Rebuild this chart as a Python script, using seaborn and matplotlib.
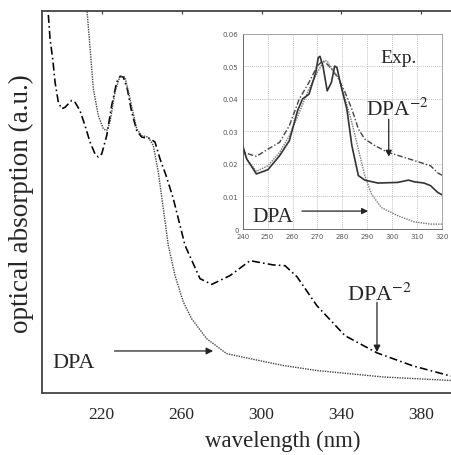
import numpy as np
import pandas as pd
import matplotlib
matplotlib.use('Agg')
import matplotlib.pyplot as plt
import seaborn as sns

# main panel: calculated spectra (wavelength in nm, absorption in a.u.)
dpa2_wl = [192.5, 193.25, 194.25, 195.6, 196.75, 198.4, 200.1, 201.75, 205.1, 206.75,
           209.25, 211.75, 214.25, 216.75, 218.4, 220.1, 222.6, 225.1, 227.6, 229.25,
           230.9, 232.9, 235.1, 237.6, 240.1, 244.25, 246.75, 249.25, 252.25, 255.9,
           261.75, 269.25, 275.1, 284.25, 294.25, 305.75, 311.75, 317.75, 327.75,
           341.75, 357.75, 375.75, 394.25, 410.0, 430.0]
dpa2_abs = [1.08, 1.0, 0.927, 0.874, 0.814, 0.761, 0.744, 0.748, 0.766, 0.761,
            0.739, 0.700, 0.657, 0.626, 0.618, 0.626, 0.674, 0.753, 0.814, 0.829,
            0.827, 0.796, 0.735, 0.687, 0.670, 0.666, 0.657, 0.613, 0.570, 0.509,
            0.387, 0.300, 0.285, 0.308, 0.347, 0.336, 0.334, 0.305, 0.229,
            0.151, 0.106, 0.072, 0.046, 0.036, 0.030]

dpa_wl = [212.2, 212.75, 213.9, 215.9, 218.4, 220.9, 222.6, 224.25, 226.75, 229.25,
          231.75, 234.25, 237.6, 240.1, 243.4, 245.9, 248.4, 250.9, 253.4, 256.75,
          260.9, 265.1, 272.6, 282.6, 294.25, 310.9, 327.6, 360.9, 394.25, 410.0, 430.0]
dpa_abs = [1.05, 1.0, 0.927, 0.796, 0.726, 0.692, 0.687, 0.709, 0.788, 0.829,
           0.827, 0.770, 0.692, 0.674, 0.670, 0.648, 0.578, 0.483, 0.387, 0.308,
           0.239, 0.195, 0.143, 0.104, 0.091, 0.073, 0.060, 0.043, 0.034, 0.031, 0.029]

# inset: experimental spectra
exp_dpa_wl = [240, 241.6, 245.5, 250.1, 254.8, 258.7, 262.7, 266.6, 269.9, 272.6,
              273.9, 275.8, 278.5, 281.1, 283.8, 286.4, 289.0, 291.7, 295.6, 302.2,
              308.8, 315.4, 320]
exp_dpa_abs = [0.0245, 0.0215, 0.0177, 0.0194, 0.0235, 0.0286, 0.0358, 0.0430, 0.0480, 0.0516,
               0.0516, 0.0490, 0.0465, 0.0400, 0.0327, 0.0245, 0.0164, 0.0107, 0.0066, 0.0041,
               0.0022, 0.0015, 0.0015]

exp_dpa2_wl = [240, 240.3, 245.5, 250.1, 254.8, 258.7, 262.7, 266.6, 269.9, 272.0,
               273.9, 275.8, 278.5, 281.1, 283.8, 286.4, 289.0, 293.0, 298.3, 304.8,
               311.4, 315.4, 318.3, 320]
exp_dpa2_abs = [0.0255, 0.0235, 0.0223, 0.0245, 0.0266, 0.0317, 0.0399, 0.0450, 0.0500, 0.0516,
                0.0506, 0.0490, 0.0460, 0.0419, 0.0368, 0.0307, 0.0276, 0.0256, 0.0235, 0.0220,
                0.0204, 0.0194, 0.0172, 0.0165]

exp_solid_wl = [240, 241.6, 245.5, 250.1, 254.8, 258.7, 262.0, 264.0, 266.6, 269.3,
                270.3, 271.0, 272.2, 273.9, 275.6, 276.9, 277.8, 279.1, 281.8, 283.8,
                286.4, 289.0, 294.3, 302.2, 306.5, 308.8, 312.8, 315.4, 318.3, 320]
exp_solid_abs = [0.0256, 0.0215, 0.0169, 0.0182, 0.0225, 0.0271, 0.0363, 0.0399, 0.0414, 0.0480,
                 0.0526, 0.0530, 0.0500, 0.0424, 0.0450, 0.0500, 0.0496, 0.0450, 0.0368, 0.0256,
                 0.0164, 0.0150, 0.0141, 0.0143, 0.0150, 0.0145, 0.0141, 0.0133, 0.0112, 0.0105]

main_ticks = [220, 260, 300, 340, 380]
inset_xticks = [240, 250, 260, 270, 280, 290, 300, 310, 320]
inset_yticks = [0, 0.01, 0.02, 0.03, 0.04, 0.05, 0.06]
inset_yticklabels = ['0', '0.01', '0.02', '0.03', '0.04', '0.05', '0.06']

sns.set_style('white')
plt.rcParams['font.family'] = ['Liberation Serif', 'DejaVu Serif']
plt.rcParams['mathtext.fontset'] = 'stix'

fig = plt.figure(figsize=(4.52, 4.56), dpi=100)
# main axes runs past the right edge of the picture (cropped like the original)
ax = fig.add_axes([0.093, 0.135, 1.064, 0.839])

sns.lineplot(x=dpa2_wl, y=dpa2_abs, ax=ax, color='black', lw=1.15,
             linestyle=(0, (5, 2, 1, 2)), sort=False, estimator=None)
sns.lineplot(x=dpa_wl, y=dpa_abs, ax=ax, color='#444444', lw=1.0,
             linestyle=(0, (1, 0.8)), sort=False, estimator=None)

ax.set_xlim(190.25, 430.75)
ax.set_ylim(0, 1)
ax.set_xticks(main_ticks)
ax.set_yticks([])
ax.tick_params(axis='x', direction='in', length=2.5, width=0.8, top=True,
               labelsize=12.5, pad=9, color='#333333')
for s in ax.spines.values():
    s.set_color('#444444')
    s.set_linewidth(1.3)
ax.set_xlabel('wavelength (nm)', fontsize=16.5, labelpad=6)
ax.set_ylabel('optical absorption (a.u.)', fontsize=19.5, labelpad=6)

# labels and arrows, main panel
ax.text(195.6, 0.07, 'DPA', fontsize=16, ha='left', va='baseline')
ax.annotate('', xy=(275.8, 0.111), xytext=(226.5, 0.111),
            arrowprops=dict(arrowstyle='-|>', color='#222222', lw=0.9,
                            mutation_scale=10, shrinkA=0, shrinkB=0))
ax.text(342.7, 0.245, 'DPA$^{-2}$', fontsize=16, ha='left', va='baseline')
ax.annotate('', xy=(357.75, 0.108), xytext=(357.75, 0.238),
            arrowprops=dict(arrowstyle='-|>', color='#222222', lw=0.9,
                            mutation_scale=10, shrinkA=0, shrinkB=0))

# inset with experiment
ins = fig.add_axes([0.537, 0.4956, 0.441, 0.4287])
ins.set_facecolor('white')
sns.lineplot(x=exp_dpa2_wl, y=exp_dpa2_abs, ax=ins, color='#444444', lw=1.0,
             linestyle=(0, (4, 1.5, 1, 1.5)), sort=False, estimator=None)
sns.lineplot(x=exp_dpa_wl, y=exp_dpa_abs, ax=ins, color='#777777', lw=1.0,
             linestyle=(0, (1, 0.8)), sort=False, estimator=None)
sns.lineplot(x=exp_solid_wl, y=exp_solid_abs, ax=ins, color='#333333', lw=1.2,
             sort=False, estimator=None)
ins.set_xlim(240, 320)
ins.set_ylim(0, 0.06)
ins.set_xticks(inset_xticks)
ins.set_yticks(inset_yticks)
ins.set_yticklabels(inset_yticklabels)
ins.set_xticks(np.arange(240, 321, 2), minor=True)
ins.set_yticks(np.arange(0, 0.0601, 0.002), minor=True)
ins.grid(True, which='major', color='#aaaaaa', lw=0.5, linestyle=(0, (1.5, 1.5)))
ins.tick_params(which='both', direction='in', colors='#666666', labelsize=5,
                labelcolor='#555555', pad=3)
ins.tick_params(which='major', length=2.5, width=0.6)
ins.tick_params(which='minor', length=1.2, width=0.4)
for lab in ins.get_xticklabels() + ins.get_yticklabels():
    lab.set_family('DejaVu Sans')
for s in ins.spines.values():
    s.set_color('#999999')
    s.set_linewidth(0.6)
ins.spines['left'].set_color('#555555')
ins.spines['bottom'].set_color('#555555')

ins.text(295.3, 0.0512, 'Exp.', fontsize=14, ha='left', va='baseline')
ins.text(289.6, 0.0352, 'DPA$^{-2}$', fontsize=15.5, ha='left', va='baseline')
ins.annotate('', xy=(298.6, 0.0222), xytext=(298.6, 0.0337),
             arrowprops=dict(arrowstyle='-|>', color='#222222', lw=0.9,
                             mutation_scale=9, shrinkA=0, shrinkB=0))
ins.text(243.7, 0.0025, 'DPA', fontsize=15.5, ha='left', va='baseline')
ins.annotate('', xy=(290.3, 0.0055), xytext=(263.8, 0.0055),
             arrowprops=dict(arrowstyle='-|>', color='#222222', lw=0.9,
                             mutation_scale=9, shrinkA=0, shrinkB=0))

plt.savefig('out.png', dpi=100)
